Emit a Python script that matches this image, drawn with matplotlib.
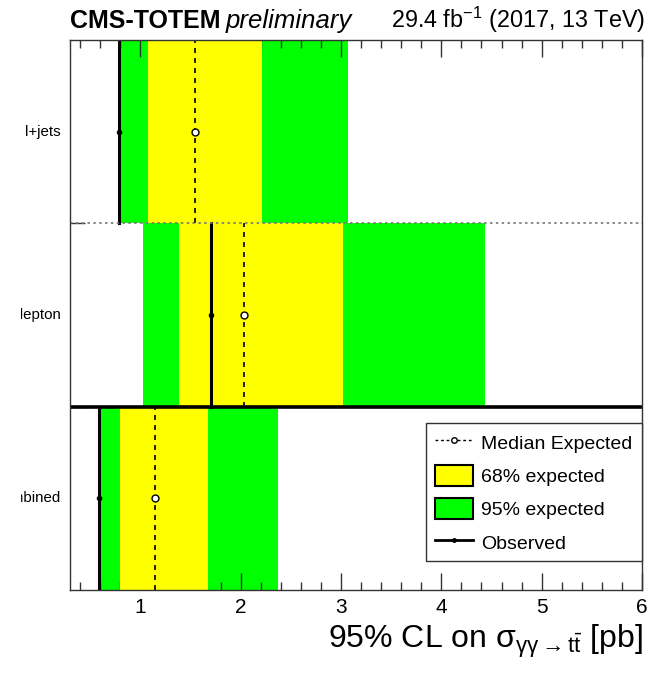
import matplotlib
matplotlib.use("Agg")
import matplotlib.pyplot as plt
from matplotlib.lines import Line2D
from matplotlib.patches import Patch
from matplotlib.transforms import Bbox, TransformedBbox, blended_transform_factory
from matplotlib.ticker import MultipleLocator

plt.rcParams['font.family'] = ['Liberation Sans', 'DejaVu Sans']
plt.rcParams['mathtext.fontset'] = 'custom'
plt.rcParams['mathtext.rm'] = 'Liberation Sans'
plt.rcParams['mathtext.it'] = 'Liberation Sans:italic'
plt.rcParams['mathtext.sf'] = 'Liberation Sans'

# ---- data (bottom to top) ----
channels = ["combined", "dilepton", "l+jets"]
observed = [0.59, 1.71, 0.79]
median_exp = [1.15, 2.03, 1.55]
band68_lo = [0.80, 1.39, 1.08]
band68_hi = [1.68, 3.02, 2.21]
band95_lo = [0.60, 1.03, 0.79]
band95_hi = [2.37, 4.44, 3.07]

W, H = 670, 673
fig = plt.figure(figsize=(W / 100, H / 100), dpi=100)
ax = fig.add_axes([70 / W, 1 - 590 / H, 572 / W, 550 / H])

ypos = list(range(len(channels)))
green = "#00ff00"
yellow = "#ffff00"

for i, y in enumerate(ypos):
    ax.barh(y + 0.5, band95_hi[i] - band95_lo[i], left=band95_lo[i], height=1.0,
            color=green, linewidth=0, zorder=1)
    ax.barh(y + 0.5, band68_hi[i] - band68_lo[i], left=band68_lo[i], height=1.0,
            color=yellow, linewidth=0, zorder=2)
    ax.plot([median_exp[i], median_exp[i]], [y, y + 1], color="black", ls=(0, (3, 3)),
            lw=1.2, zorder=3)
    ax.plot([median_exp[i]], [y + 0.5], marker="o", ms=5, mfc="white", mec="black",
            mew=1.0, zorder=5)
    ax.plot([observed[i], observed[i]], [y, y + 1], color="black", lw=2.2, zorder=4)
    ax.plot([observed[i]], [y + 0.5], marker="o", ms=3, color="black", zorder=5)

# separators
ax.axhline(2, color="#777777", ls=(0, (1.5, 2)), lw=1.2, zorder=6)
ax.axhline(1, color="black", lw=2.6, zorder=6)

ax.set_xlim(0.3, 6.0)
ax.set_ylim(0, 3)
ax.xaxis.set_major_locator(MultipleLocator(1))
ax.xaxis.set_minor_locator(MultipleLocator(0.2))
ax.tick_params(axis="x", which="both", direction="in", top=True, bottom=True,
               labelsize=15, pad=6, width=1.0, color="#333333")
ax.tick_params(axis="x", which="major", length=12)
ax.tick_params(axis="x", which="minor", length=6)
ax.set_yticks([1, 2])
ax.tick_params(axis="y", which="major", direction="in", left=True, right=False,
               labelleft=False, length=11, width=1.0, color="#333333")
for sp in ax.spines.values():
    sp.set_linewidth(1.0)
    sp.set_color("#333333")
    sp.set_zorder(7)

# row labels (clipped at the left like the reference)
clip = TransformedBbox(Bbox([[21 / W, 0], [1, 1]]), fig.transFigure)
lab_tr = blended_transform_factory(fig.transFigure, ax.transData)
for i, y in enumerate(ypos):
    t = ax.text(61 / W, y + 0.5, channels[i], transform=lab_tr, ha="right",
                va="center", fontsize=10.8)
    t.set_clip_on(True)
    t.set_clip_box(clip)

# x label
fig.text(643 / W, 1 - 648 / H,
         r"95% CL on $\mathrm{σ}_{\mathrm{γγ}\rightarrow \mathrm{t\bar{t}}}$ [pb]",
         ha="right", va="baseline", fontsize=23)

# header
fig.text(70 / W, 1 - 28 / H, "CMS-TOTEM", fontsize=18, fontweight="bold",
         ha="left", va="baseline")
fig.text(226 / W, 1 - 28 / H, "preliminary", fontsize=18.5, fontstyle="italic",
         ha="left", va="baseline")
fig.text(645 / W, 1 - 28 / H, r"29.4 fb$^{\mathrm{-1}}$ (2017, 13 TeV)", fontsize=16.8,
         ha="right", va="baseline")

# legend
handles = [
    Line2D([0], [0], color="black", ls=(0, (2, 2)), lw=1.0, marker="o", ms=4,
           mfc="white", mec="black"),
    Patch(facecolor=yellow, edgecolor="black", linewidth=1.5),
    Patch(facecolor=green, edgecolor="black", linewidth=1.5),
    Line2D([0], [0], color="black", lw=2.0, marker="o", ms=2.5),
]
labels = ["Median Expected", "68% expected", "95% expected", "Observed"]
leg = ax.legend(handles, labels, loc="upper left",
                bbox_to_anchor=((426 - 70) / 572, (590 - 423) / 550, (642 - 426) / 572, 0.0),
                mode="expand", fontsize=14, frameon=True, fancybox=False,
                edgecolor="#333333", framealpha=1, borderaxespad=0, borderpad=0.45,
                handlelength=1.95, handleheight=1.3, handletextpad=0.45,
                labelspacing=0.62, numpoints=1)
leg.get_frame().set_linewidth(1.0)
leg.set_zorder(10)

fig.savefig("out.png", dpi=100)
